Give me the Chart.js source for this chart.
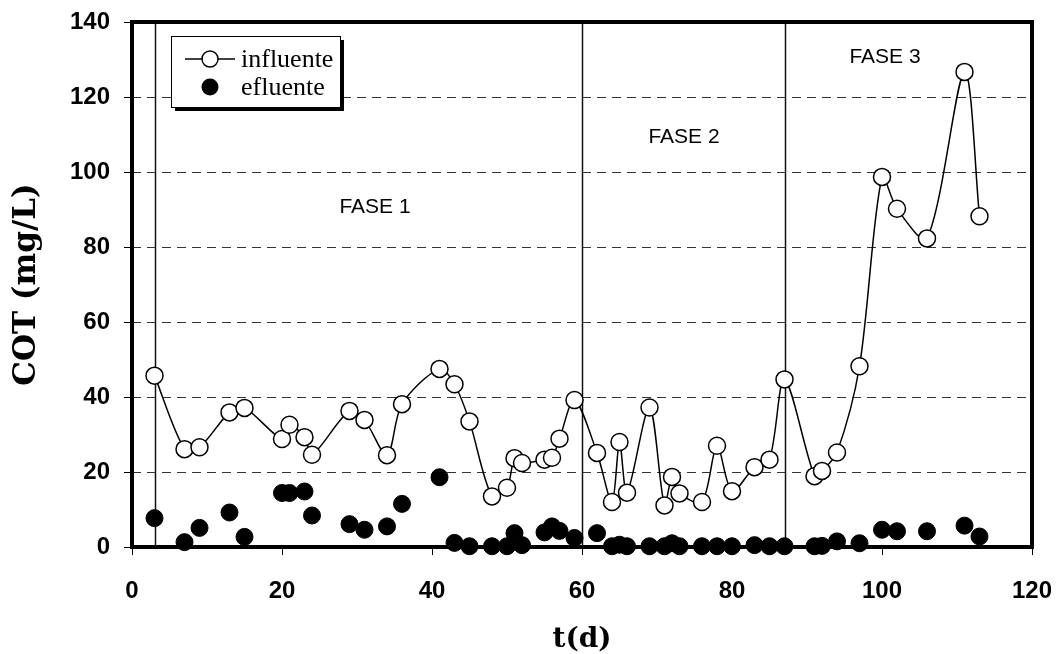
<!DOCTYPE html>
<html>
<head>
<meta charset="utf-8">
<script src="https://cdn.jsdelivr.net/npm/chart.js@4/dist/chart.umd.min.js"></script>
<style>
  body { margin: 0; background: #fff; }
</style>
</head>
<body>
<canvas id="chart" width="1057" height="654"></canvas>
<script>
// sampling days (shared by both series)
let days = [3, 7, 9, 13, 15, 20, 21, 23, 24, 29, 31, 34, 36, 41, 43, 45, 48, 50, 51, 52,
    55, 56, 57, 59, 62, 64, 65, 66, 69, 71, 72, 73, 76, 78, 80, 83, 85, 87, 91, 92,
    94, 97, 100, 102, 106, 111, 113]

let influente = [45.7, 26.1, 26.6, 35.9, 37.1, 28.8, 32.6, 29.3, 24.6, 36.3, 33.9, 24.5, 38.1, 47.5, 43.4, 33.5, 13.5, 15.8, 23.7, 22.4,
    23.3, 23.8, 28.9, 39.2, 25.1, 12.0, 28.0, 14.5, 37.2, 11.1, 18.7, 14.3, 12.0, 27.0, 14.9, 21.3, 23.3, 44.7, 18.9, 20.3,
    25.2, 48.2, 98.7, 90.2, 82.3, 126.7, 88.2]

let efluente = [7.7, 1.3, 5.1, 9.2, 2.7, 14.4, 14.4, 14.8, 8.4, 6.1, 4.6, 5.5, 11.5, 18.6, 1.1, 0.2, 0.2, 0.2, 3.7, 0.5,
    3.9, 5.5, 4.3, 2.4, 3.7, 0.2, 0.6, 0.2, 0.2, 0.2, 1.0, 0.2, 0.2, 0.2, 0.2, 0.5, 0.2, 0.2, 0.2, 0.3,
    1.5, 1.0, 4.6, 4.2, 4.2, 5.7, 2.8]

// phase boundaries (days) and phase names
let phaseStart = [3, 60, 87]
let phaseNames = ["FASE 1", "FASE 2", "FASE 3"]
let phaseNameAt = [[32.4, 90.5], [73.6, 109.4], [100.4, 130.7]]

let xTicks = [0, 20, 40, 60, 80, 100, 120]
let yTicks = [0, 20, 40, 60, 80, 100, 120, 140]

function toPoints(ys) {
    return days.map((d, i) => ({ x: d, y: ys[i] }))
}

// frame, phase lines and phase names behind the points
let phases = {
    id: "phases",
    beforeDatasetsDraw(chart) {
        let ctx = chart.ctx
        let a = chart.chartArea
        let x = chart.scales.x
        let y = chart.scales.y
        ctx.save()
        ctx.strokeStyle = "#111"
        ctx.lineWidth = 1.5
        phaseStart.forEach(d => {
            let px = Math.round(x.getPixelForValue(d)) + 0.5
            ctx.beginPath()
            ctx.moveTo(px, a.top)
            ctx.lineTo(px, a.bottom)
            ctx.stroke()
        })
        ctx.fillStyle = "#000"
        ctx.font = "21px 'Liberation Sans', Arial, sans-serif"
        ctx.textAlign = "center"
        ctx.textBaseline = "middle"
        phaseNames.forEach((name, i) => {
            ctx.fillText(name, x.getPixelForValue(phaseNameAt[i][0]), y.getPixelForValue(phaseNameAt[i][1]))
        })
        ctx.strokeStyle = "#000"
        ctx.lineWidth = 4
        ctx.strokeRect(a.left, a.top, a.right - a.left, a.bottom - a.top)
        ctx.restore()
    }
}

// boxed legend with drop shadow in the upper left corner
let boxLegend = {
    id: "boxLegend",
    afterDatasetsDraw(chart) {
        let ctx = chart.ctx
        let bx = 171, by = 36, bw = 169, bh = 71
        ctx.save()
        ctx.fillStyle = "#000"
        ctx.fillRect(bx + 4, by + 4, bw, bh)
        ctx.fillStyle = "#fff"
        ctx.fillRect(bx, by, bw, bh)
        ctx.strokeStyle = "#000"
        ctx.lineWidth = 1
        ctx.strokeRect(bx + 0.5, by + 0.5, bw, bh)

        let y1 = 59, y2 = 87, cx = 210
        ctx.lineWidth = 1.5
        ctx.beginPath()
        ctx.moveTo(185, y1)
        ctx.lineTo(235, y1)
        ctx.stroke()
        ctx.beginPath()
        ctx.arc(cx, y1, 8, 0, Math.PI * 2)
        ctx.fillStyle = "#fff"
        ctx.fill()
        ctx.stroke()
        ctx.beginPath()
        ctx.arc(cx, y2, 8.5, 0, Math.PI * 2)
        ctx.fillStyle = "#000"
        ctx.fill()

        ctx.font = "26px 'Liberation Serif', 'Times New Roman', serif"
        ctx.textAlign = "left"
        ctx.textBaseline = "middle"
        ctx.fillText("influente", 241, y1 + 1)
        ctx.fillText("efluente", 241, y2 + 1)
        ctx.restore()
    }
}

let config = {
    type: "scatter",
    data: {
        datasets: [
            {
                label: "influente",
                data: toPoints(influente),
                showLine: true,
                tension: 0.3,
                borderColor: "#000",
                borderWidth: 1.5,
                pointRadius: 8.5,
                pointBackgroundColor: "#fff",
                pointBorderColor: "#000",
                pointBorderWidth: 1.5,
                clip: false,
                order: 1
            },
            {
                label: "efluente",
                data: toPoints(efluente),
                showLine: false,
                pointRadius: 8.5,
                pointBackgroundColor: "#000",
                pointBorderColor: "#000",
                pointBorderWidth: 1,
                clip: false,
                order: 2
            }
        ]
    },
    options: {
        responsive: false,
        animation: false,
        layout: { padding: { top: 22, right: 25, left: 0, bottom: 0 } },
        plugins: {
            legend: { display: false },
            tooltip: { enabled: false }
        },
        scales: {
            x: {
                type: "linear",
                min: 0,
                max: 120,
                afterBuildTicks: s => { s.ticks = xTicks.map(v => ({ value: v })) },
                afterFit: s => {
                    s.height = 107
                    s.paddingLeft = 0
                    s.paddingRight = 0
                },
                ticks: {
                    color: "#000",
                    padding: 22,
                    font: { family: "'Liberation Sans', Arial, sans-serif", size: 24, weight: "bold" }
                },
                grid: { drawOnChartArea: false, drawTicks: true, tickLength: 8, color: "#000" },
                border: { display: false },
                title: {
                    display: true,
                    text: "t(d)",
                    color: "#000",
                    padding: 0,
                    font: { family: "'DejaVu Serif', serif", size: 28, weight: "bold", lineHeight: 1 }
                }
            },
            y: {
                type: "linear",
                min: 0,
                max: 140,
                afterBuildTicks: s => { s.ticks = yTicks.map(v => ({ value: v })) },
                afterFit: s => {
                    s.width = 132
                    s.paddingTop = 0
                    s.paddingBottom = 0
                },
                ticks: {
                    color: "#000",
                    padding: 14,
                    font: { family: "'Liberation Sans', Arial, sans-serif", size: 24, weight: "bold" }
                },
                grid: {
                    drawOnChartArea: true,
                    drawTicks: true,
                    tickLength: 8,
                    color: "#333",
                    tickColor: "#000",
                    tickBorderDash: []
                },
                border: { display: false, dash: [9, 6] },
                title: {
                    display: true,
                    text: "COT (mg/L)",
                    color: "#000",
                    padding: { top: 8, bottom: 0 },
                    font: { family: "'DejaVu Serif', serif", size: 31, weight: "bold" }
                }
            }
        }
    },
    plugins: [phases, boxLegend]
}

let chart = new Chart(document.getElementById("chart"), config)
</script>
</body>
</html>
